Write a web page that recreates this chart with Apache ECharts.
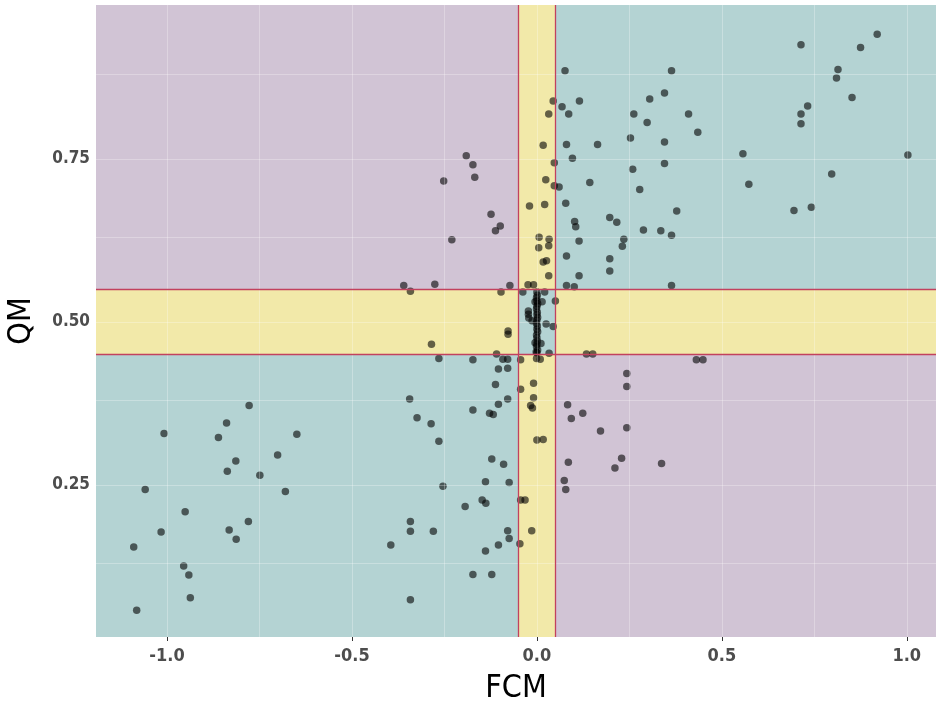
<!DOCTYPE html>
<html>
<head>
<meta charset="utf-8">
<script src="https://cdn.jsdelivr.net/npm/echarts@6/dist/echarts.min.js"></script>
<style>
html,body{margin:0;padding:0;background:#fff;}
#chart{width:936px;height:702px;}
</style>
</head>
<body>
<div id="chart"></div>
<script>
// ---- data ----
const fcm = [
  // lower-left, far
  -0.778,-0.839,-1.008,-0.861,-0.649,-0.701,-0.814,-0.837,-0.749,-1.059,-0.680,-0.951,-0.780,-1.016,-0.832,-0.813,-1.090,-0.955,-0.941,-0.937,-1.082,
  // lower-left, near
  -0.112,-0.344,-0.079,-0.104,-0.173,-0.128,-0.118,-0.324,-0.286,-0.265,-0.122,-0.090,-0.139,-0.075,-0.254,-0.148,-0.138,-0.194,-0.342,-0.342,-0.280,-0.079,-0.075,-0.395,-0.104,-0.139,-0.173,-0.122,-0.342,
  -0.265,-0.173,-0.092,-0.079,-0.104,-0.079,
  // vertical band, lower
  -0.044,-0.001,0.009,-0.009,-0.044,-0.009,-0.017,-0.012,0.000,0.017,-0.044,-0.032,-0.014,-0.046,
  // lower-right
  0.083,0.124,0.093,0.172,0.085,0.211,0.074,0.078,0.431,0.449,0.243,0.243,0.243,0.229,0.337,
  // horizontal band
  -0.109,0.134,0.151,-0.342,-0.097,-0.038,-0.078,-0.078,-0.285,0.050,
  // centre square
  -0.002,0.033,0.021,-0.005,0.014,-0.023,-0.023,-0.022,-0.013,0.025,0.044,-0.005,0.011,
  0.000,0.001,-0.001,0.000,0.002,0.000,-0.001,0.001,0.000,0.002,0.000,-0.001,0.001,0.000,0.002,-0.001,0.000,0.001,0.000,-0.001,0.002,0.000,
  // vertical band, upper
  0.017,0.026,0.032,-0.024,-0.009,0.044,0.032,0.017,0.047,0.024,0.047,-0.020,0.021,0.006,0.033,0.005,0.032,
  // upper-left
  -0.073,-0.191,-0.173,-0.168,-0.252,-0.124,-0.099,-0.112,-0.230,-0.276,-0.360,
  // upper-right
  0.114,0.080,0.101,0.068,0.115,0.086,0.080,0.164,0.096,0.060,0.143,0.078,0.102,0.105,0.197,0.216,0.114,0.080,0.197,0.197,
  0.076,0.364,0.305,0.345,0.262,0.298,0.410,0.435,0.253,0.345,0.345,0.259,0.278,0.378,0.235,0.231,0.288,0.335,0.364,0.364,
  0.557,0.573,0.714,0.875,0.920,0.814,0.810,0.852,0.732,0.714,0.714,0.797,1.003,0.695,0.742
];
const qm = [
  0.372,0.345,0.329,0.323,0.328,0.296,0.287,0.271,0.265,0.243,0.240,0.209,0.194,0.178,0.181,0.167,0.155,0.126,0.112,0.077,0.058,
  0.404,0.382,0.382,0.374,0.365,0.360,0.358,0.353,0.344,0.317,0.290,0.282,0.255,0.254,0.248,0.227,0.222,0.217,0.194,0.179,0.179,0.180,0.168,0.158,0.158,0.149,0.113,0.113,0.074,
  0.444,0.442,0.443,0.443,0.428,0.429,
  0.442,0.444,0.443,0.406,0.397,0.384,0.372,0.368,0.319,0.320,0.227,0.227,0.180,0.160,
  0.373,0.360,0.352,0.333,0.285,0.276,0.257,0.243,0.442,0.442,0.421,0.401,0.338,0.291,0.283,
  0.451,0.451,0.451,0.547,0.546,0.546,0.481,0.486,0.466,0.532,
  0.454,0.452,0.546,0.531,0.531,0.517,0.512,0.506,0.502,0.497,0.493,0.468,0.467,
  0.546,0.541,0.537,0.532,0.528,0.524,0.520,0.515,0.511,0.507,0.503,0.498,0.494,0.489,0.485,0.480,0.476,0.471,0.466,0.462,0.457,0.453,
  0.592,0.594,0.571,0.557,0.557,0.839,0.819,0.771,0.744,0.718,0.709,0.678,0.680,0.630,0.627,0.614,0.617,
  0.556,0.755,0.741,0.722,0.716,0.665,0.647,0.640,0.626,0.558,0.556,
  0.571,0.556,0.554,0.830,0.839,0.819,0.772,0.772,0.751,0.707,0.714,0.682,0.654,0.646,0.660,0.653,0.624,0.601,0.597,0.578,
  0.885,0.885,0.842,0.851,0.819,0.806,0.819,0.791,0.782,0.776,0.743,0.734,0.703,0.670,0.627,0.616,0.641,0.640,0.633,0.556,
  0.758,0.711,0.925,0.921,0.941,0.887,0.874,0.844,0.831,0.819,0.804,0.727,0.756,0.671,0.676
];
const xTicks = [-1.0, -0.5, 0.0, 0.5, 1.0];
const yTicks = [0.25, 0.50, 0.75];
const xGrid = [-1.0, -0.75, -0.5, -0.25, 0.0, 0.25, 0.5, 0.75, 1.0];
const yGrid = [0.125, 0.25, 0.375, 0.5, 0.625, 0.75, 0.875];
const xRange = [-1.192, 1.079];
const yRange = [0.017, 0.986];
const bandX = [-0.05, 0.05];
const bandY = [0.45, 0.55];

// ---- styles ----
const PURPLE = '#d1c4d5';
const TEAL = '#b4d3d3';
const YELLOW = '#f2e9a9';
const LINE_RED = '#c2415e';

const points = fcm.map((x, i) => [x, qm[i]]);

function rect(x0, x1, y0, y1, color) {
  return [{ xAxis: x0, yAxis: y0, itemStyle: { color: color, opacity: 1, borderWidth: 0 } }, { xAxis: x1, yAxis: y1 }];
}

const areas = [
  rect(xRange[0], bandX[0], bandY[1], yRange[1], PURPLE),
  rect(bandX[1], xRange[1], bandY[0], yRange[0], PURPLE),
  rect(bandX[1], xRange[1], bandY[1], yRange[1], TEAL),
  rect(xRange[0], bandX[0], yRange[0], bandY[0], TEAL),
  rect(bandX[0], bandX[1], yRange[0], yRange[1], YELLOW),
  rect(xRange[0], xRange[1], bandY[0], bandY[1], YELLOW),
  rect(bandX[0], bandX[1], bandY[0], bandY[1], TEAL)
];

const redStyle = { color: LINE_RED, width: 1.3, type: 'solid', opacity: 1 };

const chart = echarts.init(document.getElementById('chart'), null, { renderer: 'canvas' });
const fontFam = '"DejaVu Sans Condensed", "Liberation Sans", Arial, sans-serif';

chart.setOption({
  animation: false,
  backgroundColor: '#ffffff',
  grid: { left: 96, right: 0, top: 5, bottom: 65, containLabel: false, outerBoundsMode: 'none' },
  xAxis: {
    type: 'value', min: xRange[0], max: xRange[1],
    name: 'FCM', nameLocation: 'middle', nameGap: 36,
    nameTextStyle: { fontFamily: fontFam, fontSize: 32, color: '#000' },
    axisLine: { show: false },
    splitLine: { show: false },
    axisTick: { show: true, customValues: xTicks, length: 4, lineStyle: { color: '#333', width: 1 } },
    axisLabel: { customValues: xTicks, margin: 10, fontFamily: fontFam, fontWeight: 'bold', fontSize: 18, color: '#4d4d4d',
      formatter: v => v.toFixed(1) }
  },
  yAxis: {
    type: 'value', min: yRange[0], max: yRange[1],
    name: 'QM', nameLocation: 'middle', nameGap: 58,
    nameTextStyle: { fontFamily: fontFam, fontSize: 32, color: '#000' },
    axisLine: { show: false },
    splitLine: { show: false },
    axisTick: { show: true, customValues: yTicks, length: 4, lineStyle: { color: '#333', width: 1 } },
    axisLabel: { customValues: yTicks, margin: 6, fontFamily: fontFam, fontWeight: 'bold', fontSize: 17, color: '#4d4d4d',
      formatter: v => v.toFixed(2) }
  },
  series: [
    {
      type: 'scatter', data: [], z: 1, silent: true,
      markArea: { silent: true, data: areas }
    },
    {
      type: 'scatter', data: [], z: 2, silent: true,
      markLine: {
        silent: true, symbol: ['none', 'none'], label: { show: false },
        lineStyle: { color: 'rgba(255,255,255,0.28)', width: 1, type: 'solid' },
        data: xGrid.map(v => ({ xAxis: v })).concat(yGrid.map(v => ({ yAxis: v })))
      }
    },
    {
      type: 'scatter', data: points, z: 3,
      symbolSize: 7.5,
      itemStyle: { color: 'rgba(0,0,0,0.74)' }
    },
    {
      type: 'scatter', data: [], z: 4, silent: true,
      markLine: {
        silent: true, symbol: ['none', 'none'], label: { show: false },
        lineStyle: redStyle,
        emphasis: { disabled: true },
        data: bandX.map(v => ({ xAxis: v, lineStyle: redStyle })).concat(bandY.map(v => ({ yAxis: v, lineStyle: redStyle })))
      }
    }
  ]
});
</script>
</body>
</html>
